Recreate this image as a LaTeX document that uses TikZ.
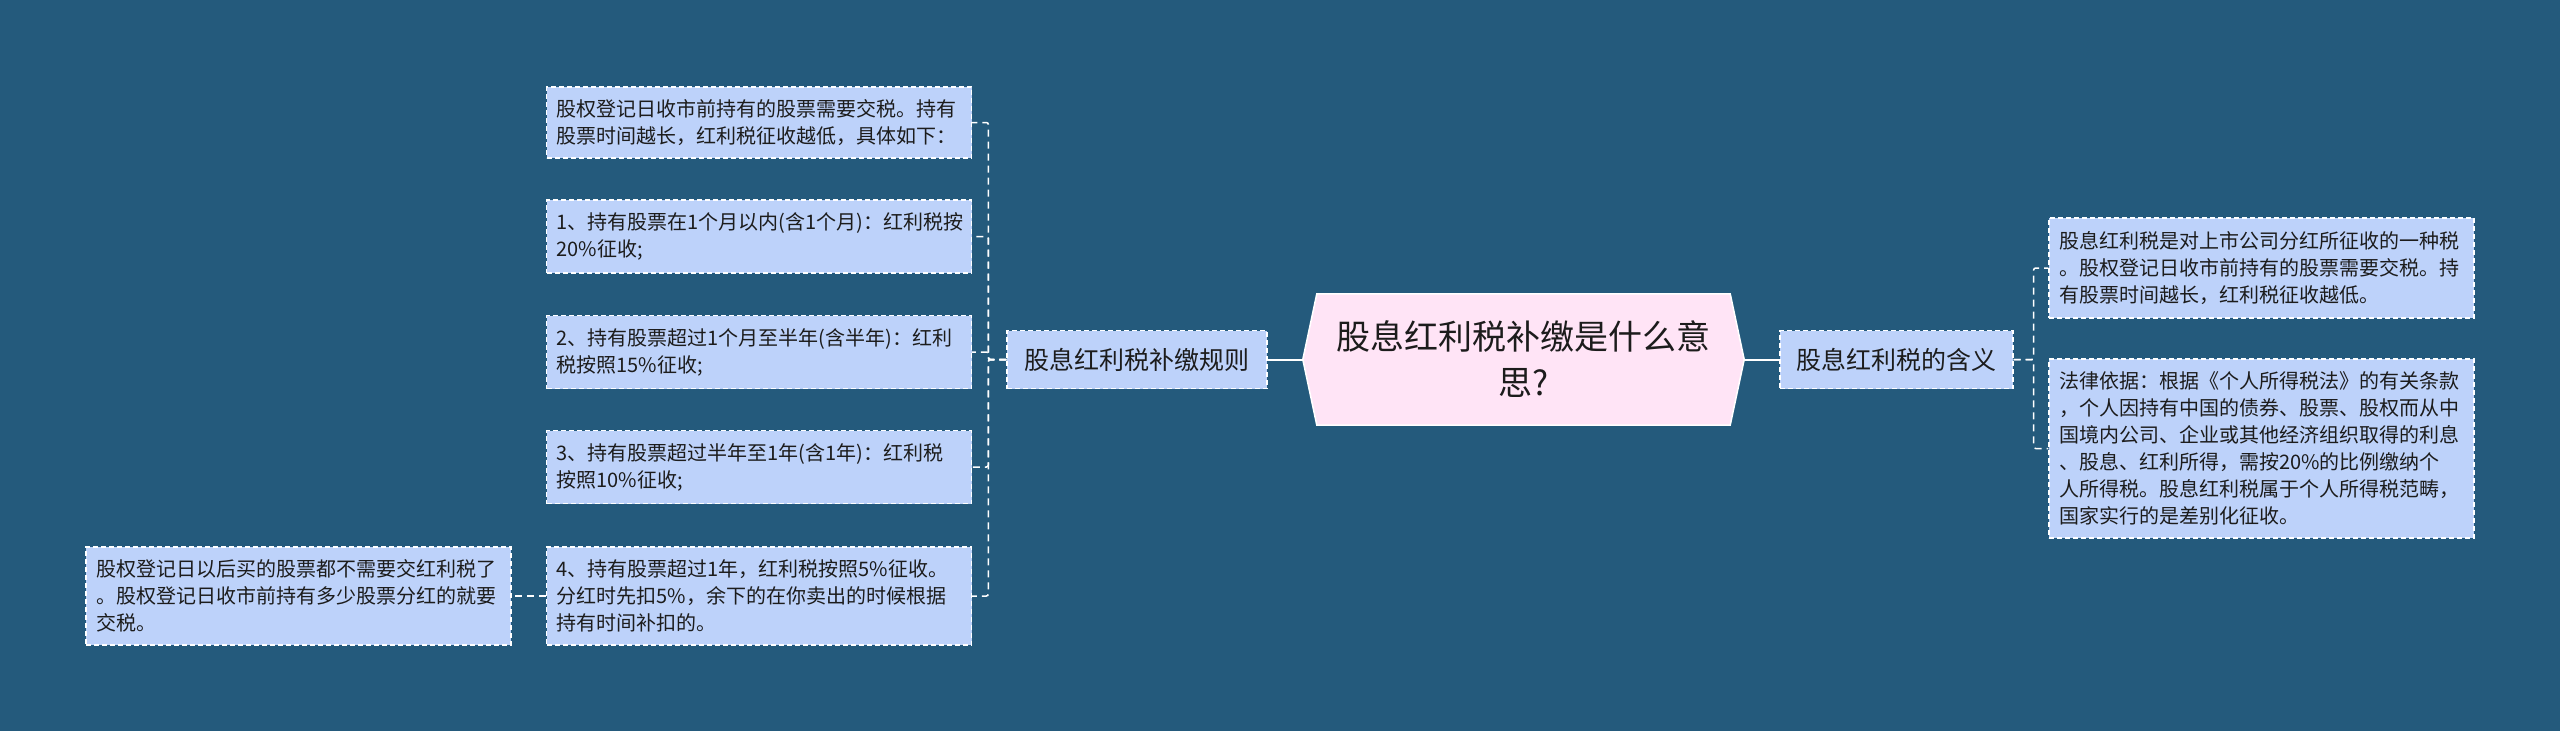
\documentclass[tikz,border=0pt]{standalone}
\usepackage{fontspec}
\newfontfamily\cjk{Noto Sans CJK SC}
\usetikzlibrary{backgrounds}
\definecolor{bgc}{HTML}{245A7C}
\definecolor{boxfill}{HTML}{BDD2FA}
\definecolor{rootfill}{HTML}{FFE4F6}
\definecolor{txt}{HTML}{1C1C1C}
\tikzset{
  leaf/.style={draw=white, fill=boxfill, line width=1.3pt, dash pattern=on 5pt off 3pt,
    text=txt, font=\cjk\fontsize{20}{27}\selectfont, align=left, text width=405pt,
    inner xsep=10pt, inner ysep=0pt},
  branch/.style={draw=white, fill=boxfill, line width=1.3pt, dash pattern=on 5pt off 3pt,
    text=txt, font=\cjk\fontsize{25}{30}\selectfont, align=center, inner xsep=12pt, inner ysep=0pt,
    minimum height=58pt},
  rootnode/.style={text=txt, font=\cjk\fontsize{34}{46}\selectfont, align=center,
    text width=390pt, minimum width=441pt, minimum height=131pt, inner sep=0pt},
  conn/.style={draw=white, line width=1.5pt, dash pattern=on 7pt off 5pt, rounded corners=2pt},
  mainconn/.style={draw=white, line width=2pt},
}
\begin{document}
\begin{tikzpicture}[x=1pt,y=-1pt]
\useasboundingbox (0,0) rectangle (2560,731);
\node[rootnode] (c) at (1523.5,359.5) {股息红利税补缴是什么意\\思?};
\node[branch, minimum width=260pt] (lb) at (1137,359.5) {股息红利税补缴规则};
\node[branch, minimum width=233pt] (rb) at (1896.5,359.5) {股息红利税的含义};

\node[leaf, minimum height=71pt] (l1) at (759,122.5) {股权登记日收市前持有的股票需要交税。持有\\股票时间越长，红利税征收越低，具体如下：};
\node[leaf, minimum height=73pt] (l2) at (759,236.5) {1、持有股票在1个月以内(含1个月)：红利税按\\20\%征收;};
\node[leaf, minimum height=73pt] (l3) at (759,352) {2、持有股票超过1个月至半年(含半年)：红利\\税按照15\%征收;};
\node[leaf, minimum height=73pt] (l4) at (759,467) {3、持有股票超过半年至1年(含1年)：红利税\\按照10\%征收;};
\node[leaf, minimum height=98pt] (l5) at (759,596) {4、持有股票超过1年，红利税按照5\%征收。\\分红时先扣5\%，余下的在你卖出的时候根据\\持有时间补扣的。};
\node[leaf, minimum height=98pt] (l6) at (298.5,596) {股权登记日以后买的股票都不需要交红利税了\\。股权登记日收市前持有多少股票分红的就要\\交税。};

\node[leaf, minimum height=100pt] (r1) at (2261.5,268) {股息红利税是对上市公司分红所征收的一种税\\。股权登记日收市前持有的股票需要交税。持\\有股票时间越长，红利税征收越低。};
\node[leaf, minimum height=179pt] (r2) at (2261.5,448.5) {法律依据：根据《个人所得税法》的有关条款\\，个人因持有中国的债券、股票、股权而从中\\国境内公司、企业或其他经济组织取得的利息\\、股息、红利所得，需按20\%的比例缴纳个\\人所得税。股息红利税属于个人所得税范畴，\\国家实行的是差别化征收。};

\coordinate (lj) at ([xshift=-18pt]lb.west);
\coordinate (rj) at ([xshift=20pt]rb.east);

\draw[mainconn] (c.west) -- (lb.east);
\draw[mainconn] (c.east) -- (rb.west);

\draw[conn] (lb.west) -- (lj) |- (l1.east);
\draw[conn] (lb.west) -- (lj) |- (l2.east);
\draw[conn] (lb.west) -- (lj) |- (l3.east);
\draw[conn] (lb.west) -- (lj) |- (l4.east);
\draw[conn] (lb.west) -- (lj) |- (l5.east);
\draw[conn] (l5.west) -- (l6.east);

\draw[conn] (rb.east) -- (rj) |- (r1.west);
\draw[conn] (rb.east) -- (rj) |- (r2.west);

\begin{pgfonlayer}{background}
\fill[bgc] (0,0) rectangle (2560,731);
\filldraw[fill=rootfill, draw=white, line width=1.5pt]
  ([xshift=14pt]c.north west) -- ([xshift=-14pt]c.north east) -- (c.east)
  -- ([xshift=-14pt]c.south east) -- ([xshift=14pt]c.south west) -- (c.west) -- cycle;
\end{pgfonlayer}
\end{tikzpicture}
\end{document}
